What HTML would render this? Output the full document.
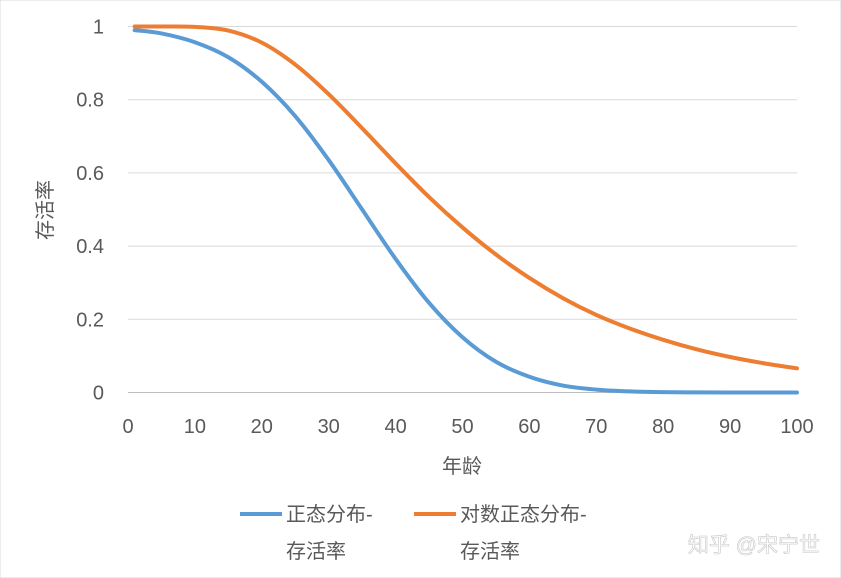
<!DOCTYPE html>
<html><head><meta charset="utf-8">
<style>
html,body{margin:0;padding:0;background:#fff;}
svg{display:block;font-family:"Liberation Sans","Noto Sans CJK SC",sans-serif;}
</style></head>
<body>
<svg id="chart" width="841" height="578" viewBox="0 0 841 578" xmlns="http://www.w3.org/2000/svg">
<rect x="0" y="0" width="841" height="578" fill="#fff" stroke="#d9d9d9"/>
<g id="grid"></g>
<g id="yticks"></g>
<g id="xticks"></g>
<g id="series"></g>
<text x="52" y="210" font-size="20" fill="#595959" text-anchor="middle" transform="rotate(-90 52 210)">存活率</text>
<text x="462" y="473" font-size="20" fill="#595959" text-anchor="middle">年龄</text>
<g>
<g>
<line x1="240" y1="514" x2="282" y2="514" stroke="#5b9bd5" stroke-width="4"/>
<text x="286" y="521" font-size="20" fill="#595959">正态分布-</text>
<text x="286" y="558" font-size="20" fill="#595959">存活率</text>
</g>
<g>
<line x1="414" y1="514" x2="456" y2="514" stroke="#ed7d31" stroke-width="4"/>
<text x="460" y="521" font-size="20" fill="#595959">对数正态分布-</text>
<text x="460" y="558" font-size="20" fill="#595959">存活率</text>
</g>
</g>
<text x="820" y="552" font-size="21" fill="#ffffff" stroke="#c8c8c8" stroke-width="0.6" text-anchor="end">知乎 @宋宁世</text>
</svg>
<script>
const ages = [1,5,10,15,20,25,30,35,40,45,50,55,60,65,70,75,80,85,90,95,100];
const normalSurvival = [0.99,0.981,0.957,0.916,0.849,0.755,0.635,0.5,0.365,0.245,0.151,0.084,0.043,0.019,0.008,0.003,0.001,0.0004,0.0001,0,0];
const lognormalSurvival = [1,1,0.999,0.989,0.956,0.896,0.815,0.722,0.626,0.534,0.451,0.377,0.313,0.258,0.212,0.175,0.144,0.118,0.097,0.08,0.066];
const xTicks = [0,10,20,30,40,50,60,70,80,90,100];
const yTicks = [0,0.2,0.4,0.6,0.8,1];
const yTickLabels = ["0","0.2","0.4","0.6","0.8","1"];

const NS="http://www.w3.org/2000/svg";
const x0=128,x1=797,y0=392.5,y1=26.5;
function xs(v){return x0+(v-0)/(100-0)*(x1-x0);}
function ys(v){return y0-(v-0)/(1-0)*(y0-y1);}
function mk(tag,attrs,parent){const e=document.createElementNS(NS,tag);for(const k in attrs)e.setAttribute(k,attrs[k]);parent.appendChild(e);return e;}

const grid=document.getElementById('grid');
const yt=document.getElementById('yticks');
yTicks.forEach((t,i)=>{
  const l=mk('line',{x1:x0,x2:x1,y1:ys(t),y2:ys(t),stroke:t===0?'#bfbfbf':'#d9d9d9','stroke-width':1},grid);
  
  
  const tx=mk('text',{x:104,y:ys(t)+7,'font-size':20,fill:'#595959','text-anchor':'end'},yt);
  tx.textContent=yTickLabels[i];
  
  
});
const xt=document.getElementById('xticks');
xTicks.forEach(t=>{
  const tx=mk('text',{x:xs(t),y:433,'font-size':20,fill:'#595959','text-anchor':'middle'},xt);
  tx.textContent=String(t);
  
  
});

function smoothPath(xv,yv){
  const p=xv.map((v,i)=>[xs(v),ys(yv[i])]);
  let d='M'+p[0][0]+','+p[0][1];
  for(let i=0;i<p.length-1;i++){
    const a=p[i-1]||p[i],b=p[i],c=p[i+1],e=p[i+2]||c;
    const c1=[b[0]+(c[0]-a[0])/6,b[1]+(c[1]-a[1])/6];
    const c2=[c[0]-(e[0]-b[0])/6,c[1]-(e[1]-b[1])/6];
    d+=' C'+c1[0]+','+c1[1]+' '+c2[0]+','+c2[1]+' '+c[0]+','+c[1];
  }
  return d;
}
const sg=document.getElementById('series');
const pn=mk('path',{d:smoothPath(ages,normalSurvival),fill:'none',stroke:'#5b9bd5','stroke-width':4,'stroke-linecap':'round'},sg);


const pl=mk('path',{d:smoothPath(ages,lognormalSurvival),fill:'none',stroke:'#ed7d31','stroke-width':4,'stroke-linecap':'round'},sg);


</script>
</body></html>
